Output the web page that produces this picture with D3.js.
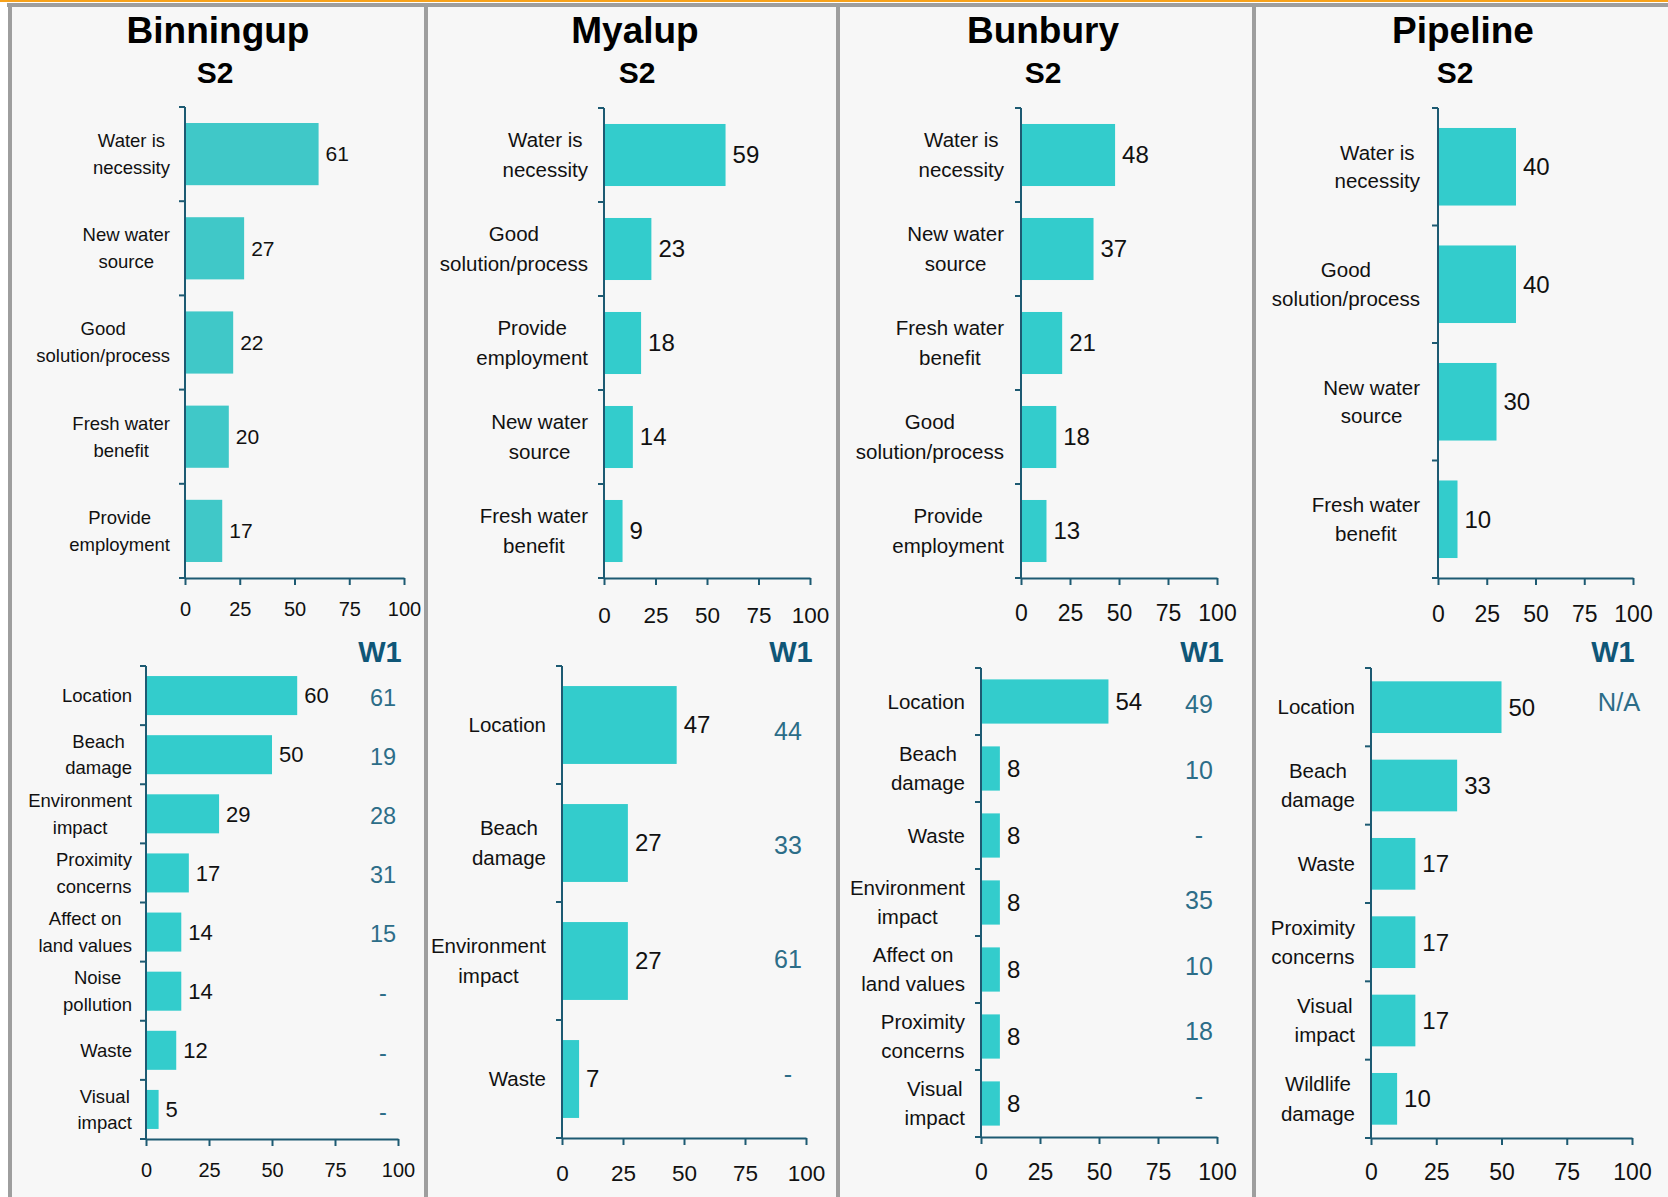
<!DOCTYPE html>
<html>
<head>
<meta charset="utf-8">
<script src="https://cdn.jsdelivr.net/npm/d3@7"></script>
<style>
  body { margin: 0; background: #ffffff; }
  svg text { font-family: "Liberation Sans", Arial, sans-serif; }
</style>
</head>
<body>
<svg id="chart" width="1668" height="1197"></svg>
<script>
/* ── Data ─────────────────────────────────────────────────────────── */

const TICKS = [0, 25, 50, 75, 100];

const binningupS2Labels = ['Water is\nnecessity', 'New water\nsource', 'Good\nsolution/process', 'Fresh water\nbenefit', 'Provide\nemployment'];
const binningupS2Values = [61, 27, 22, 20, 17];
const binningupW1Labels = ['Location', 'Beach\ndamage', 'Environment\nimpact', 'Proximity\nconcerns', 'Affect on\nland values', 'Noise\npollution', 'Waste', 'Visual\nimpact'];
const binningupW1Values = [60, 50, 29, 17, 14, 14, 12, 5];
const binningupW1Prev = ['61', '19', '28', '31', '15', '-', '-', '-'];

const myalupS2Labels = ['Water is\nnecessity', 'Good\nsolution/process', 'Provide\nemployment', 'New water\nsource', 'Fresh water\nbenefit'];
const myalupS2Values = [59, 23, 18, 14, 9];
const myalupW1Labels = ['Location', 'Beach\ndamage', 'Environment\nimpact', 'Waste'];
const myalupW1Values = [47, 27, 27, 7];
const myalupW1Prev = ['44', '33', '61', '-'];

const bunburyS2Labels = ['Water is\nnecessity', 'New water\nsource', 'Fresh water\nbenefit', 'Good\nsolution/process', 'Provide\nemployment'];
const bunburyS2Values = [48, 37, 21, 18, 13];
const bunburyW1Labels = ['Location', 'Beach\ndamage', 'Waste', 'Environment\nimpact', 'Affect on\nland values', 'Proximity\nconcerns', 'Visual\nimpact'];
const bunburyW1Values = [54, 8, 8, 8, 8, 8, 8];
const bunburyW1Prev = ['49', '10', '-', '35', '10', '18', '-'];

const pipelineS2Labels = ['Water is\nnecessity', 'Good\nsolution/process', 'New water\nsource', 'Fresh water\nbenefit'];
const pipelineS2Values = [40, 40, 30, 10];
const pipelineW1Labels = ['Location', 'Beach\ndamage', 'Waste', 'Proximity\nconcerns', 'Visual\nimpact', 'Wildlife\ndamage'];
const pipelineW1Values = [50, 33, 17, 17, 17, 10];
const pipelineW1Prev = ['N/A', '', '', '', '', ''];

/* ── Style ────────────────────────────────────────────────────────── */

const BAR = '#33cccc';
const AXIS = '#1d5a72';
const W1_HEAD = '#0f5677';
const W1_TEXT = '#2c6d88';
const PANEL_BG = '#f7f7f7';
const SEP = '#9e9e9e';

/* ── Layout ───────────────────────────────────────────────────────── */

const PANELS = [
  {
    name: 'Binningup', left: 12, right: 424, titleX: 218, subX: 215,
    top: { labels: binningupS2Labels, values: binningupS2Values, x0: 185, x1: 404, y0: 107, y1: 578,
      catFs: 18.5, valFs: 21, tickFs: 20, lh: 27, gap: 15, tickOff: 31, color: '#40c8c8' },
    bottom: { labels: binningupW1Labels, values: binningupW1Values, prev: binningupW1Prev,
      x0: 146, x1: 398, y0: 666, y1: 1139, catFs: 18.5, valFs: 22, tickFs: 20, lh: 26.5, gap: 14, tickOff: 31,
      w1x: 383, headX: 380, w1Fs: 23.5, w1Range: [668, 1141] },
  },
  {
    name: 'Myalup', left: 428, right: 836, titleX: 635, subX: 637,
    top: { labels: myalupS2Labels, values: myalupS2Values, x0: 604, x1: 810, y0: 108, y1: 578,
      catFs: 20.5, valFs: 24, tickFs: 22.5, lh: 29.5, gap: 16, tickOff: 37 },
    bottom: { labels: myalupW1Labels, values: myalupW1Values, prev: myalupW1Prev,
      x0: 562, x1: 806, y0: 666, y1: 1138, catFs: 20.5, valFs: 24, tickFs: 22.5, lh: 30, gap: 16, tickOff: 35,
      w1x: 788, headX: 791, w1Fs: 25, w1Range: [674, 1131] },
  },
  {
    name: 'Bunbury', left: 840, right: 1252, titleX: 1043, subX: 1043,
    top: { labels: bunburyS2Labels, values: bunburyS2Values, x0: 1021, x1: 1217, y0: 108, y1: 578,
      catFs: 20.5, valFs: 24, tickFs: 23, lh: 29.5, gap: 17, tickOff: 35 },
    bottom: { labels: bunburyW1Labels, values: bunburyW1Values, prev: bunburyW1Prev,
      x0: 981, x1: 1217, y0: 668, y1: 1137, catFs: 20.5, valFs: 24, tickFs: 23, lh: 29.5, gap: 16, tickOff: 35,
      w1x: 1199, headX: 1202, w1Fs: 25, w1Range: [672, 1129] },
  },
  {
    name: 'Pipeline', left: 1256, right: 1668, titleX: 1463, subX: 1455,
    top: { labels: pipelineS2Labels, values: pipelineS2Values, x0: 1438, x1: 1633, y0: 108, y1: 578,
      catFs: 20.5, valFs: 24, tickFs: 23, lh: 28.5, gap: 18, tickOff: 36 },
    bottom: { labels: pipelineW1Labels, values: pipelineW1Values, prev: pipelineW1Prev,
      x0: 1371, x1: 1632, y0: 668, y1: 1138, catFs: 20.5, valFs: 24, tickFs: 23, lh: 29.5, gap: 16, tickOff: 34,
      w1x: 1619, headX: 1613, w1Fs: 25.5, w1Range: [663, 1133] },
  },
];

/* ── Drawing ──────────────────────────────────────────────────────── */

const svg = d3.select('#chart');

// frame: orange rule, gray rule, panel backgrounds and separators
svg.append('rect').attr('x', 0).attr('y', 0).attr('width', 1668).attr('height', 2).attr('fill', '#f7a21b');
svg.append('rect').attr('x', 7).attr('y', 3).attr('width', 1661).attr('height', 4).attr('fill', SEP);

PANELS.forEach(p => {
  svg.append('rect')
    .attr('x', p.left).attr('y', 7)
    .attr('width', p.right - p.left).attr('height', 1190)
    .attr('fill', PANEL_BG);
  svg.append('rect')
    .attr('x', p.left - 4).attr('y', 3)
    .attr('width', 4).attr('height', 1194)
    .attr('fill', SEP);
});

PANELS.forEach(p => {
  const g = svg.append('g');

  g.append('text')
    .attr('x', p.titleX).attr('y', 43)
    .attr('text-anchor', 'middle')
    .attr('font-size', 37).attr('font-weight', 'bold').attr('fill', '#000')
    .text(p.name);
  g.append('text')
    .attr('x', p.subX).attr('y', 83)
    .attr('text-anchor', 'middle')
    .attr('font-size', 30).attr('font-weight', 'bold').attr('fill', '#000')
    .text('S2');

  drawBarChart(g, p.top);
  drawBarChart(g, p.bottom);

  // W1 comparison column
  const b = p.bottom;
  g.append('text')
    .attr('x', b.headX).attr('y', 652)
    .attr('dy', '0.35em')
    .attr('text-anchor', 'middle')
    .attr('font-size', 29).attr('font-weight', 'bold').attr('fill', W1_HEAD)
    .text('W1');

  const yw = d3.scaleBand().domain(d3.range(b.prev.length)).range(b.w1Range);
  g.append('g')
    .selectAll('text')
    .data(b.prev)
    .join('text')
    .attr('x', b.w1x)
    .attr('y', (d, i) => yw(i) + yw.bandwidth() / 2)
    .attr('dy', '0.35em')
    .attr('text-anchor', 'middle')
    .attr('font-size', b.w1Fs).attr('fill', W1_TEXT)
    .text(d => d);
});

function drawBarChart(g, cfg) {
  const n = cfg.values.length;
  const x = d3.scaleLinear().domain([0, 100]).range([cfg.x0, cfg.x1]);
  const y = d3.scaleBand()
    .domain(d3.range(n))
    .range([cfg.y0, cfg.y1])
    .paddingInner(0.34)
    .paddingOuter(0.17);

  // Bars
  g.append('g')
    .selectAll('rect')
    .data(cfg.values)
    .join('rect')
    .attr('x', x(0))
    .attr('y', (d, i) => y(i))
    .attr('width', d => x(d) - x(0))
    .attr('height', y.bandwidth())
    .attr('fill', cfg.color || BAR);

  // Value labels
  g.append('g')
    .selectAll('text')
    .data(cfg.values)
    .join('text')
    .attr('x', d => x(d) + 7)
    .attr('y', (d, i) => y(i) + y.bandwidth() / 2)
    .attr('dy', '0.35em')
    .attr('font-size', cfg.valFs)
    .attr('fill', '#111')
    .text(d => d);

  // Category axis (line + boundary ticks)
  const step = y.step();
  g.append('line')
    .attr('x1', x(0)).attr('x2', x(0))
    .attr('y1', cfg.y0).attr('y2', cfg.y1)
    .attr('stroke', AXIS).attr('stroke-width', 2);
  g.append('g')
    .selectAll('line')
    .data(d3.range(n + 1))
    .join('line')
    .attr('x1', x(0) - 6).attr('x2', x(0))
    .attr('y1', i => cfg.y0 + i * step).attr('y2', i => cfg.y0 + i * step)
    .attr('stroke', AXIS).attr('stroke-width', 2);

  // Value axis
  const pad = cfg.tickOff - 7 - 0.35 * cfg.tickFs;
  const ax = g.append('g')
    .attr('transform', `translate(0,${cfg.y1})`)
    .call(d3.axisBottom(x).tickValues(TICKS).tickSize(7).tickSizeOuter(0).tickPadding(pad));
  ax.select('.domain').attr('stroke', AXIS).attr('stroke-width', 2);
  ax.selectAll('.tick line').attr('stroke', AXIS).attr('stroke-width', 2);
  ax.selectAll('.tick text')
    .attr('font-size', cfg.tickFs)
    .attr('font-family', '"Liberation Sans", Arial, sans-serif')
    .attr('fill', '#111');

  // Category labels: right-aligned block, lines centred within it
  const right = x(0) - cfg.gap;
  cfg.labels.forEach((lab, i) => {
    const lines = lab.split('\n');
    const cy = y(i) + y.bandwidth() / 2;
    const texts = lines.map((ln, j) => g.append('text')
      .attr('y', cy + (j - (lines.length - 1) / 2) * cfg.lh)
      .attr('dy', '0.35em')
      .attr('text-anchor', 'middle')
      .attr('font-size', cfg.catFs)
      .attr('fill', '#111')
      .text(ln));
    const maxW = d3.max(texts, t => t.node().getComputedTextLength());
    texts.forEach(t => t.attr('x', right - maxW / 2));
  });
}
</script>
</body>
</html>
